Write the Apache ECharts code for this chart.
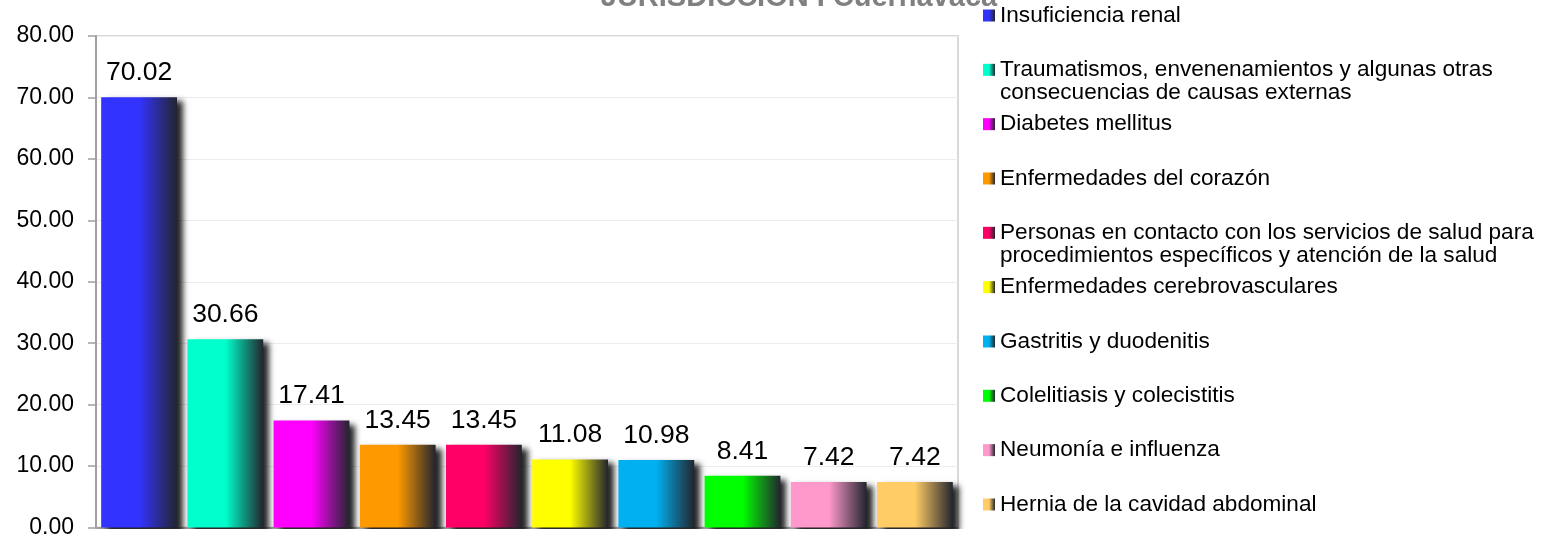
<!DOCTYPE html>
<html>
<head>
<meta charset="utf-8">
<script src="https://cdn.jsdelivr.net/npm/echarts@6/dist/echarts.min.js"></script>
<style>html,body{margin:0;padding:0;background:#fff}#c{width:1549px;height:539px}</style>
</head>
<body>
<div id="c"></div>
<script>
var titleText = 'JURISDICCIÓN I Cuernavaca';
var categories = [
  'Insuficiencia renal',
  'Traumatismos, envenenamientos y algunas otras\nconsecuencias de causas externas',
  'Diabetes mellitus',
  'Enfermedades del corazón',
  'Personas en contacto con los servicios de salud para\nprocedimientos específicos y atención de la salud',
  'Enfermedades cerebrovasculares',
  'Gastritis y duodenitis',
  'Colelitiasis y colecistitis',
  'Neumonía e influenza',
  'Hernia de la cavidad abdominal'
];
var values = [70.02, 30.66, 17.41, 13.45, 13.45, 11.08, 10.98, 8.41, 7.42, 7.42];
var colors = ['#3333FF', '#00FFCC', '#FF00FF', '#FF9900', '#FF0066', '#FFFF00', '#00B0F0', '#00FF00', '#FF99CC', '#FFCC66'];
var yTicks = [0, 10, 20, 30, 40, 50, 60, 70, 80];

var FONT = '"Liberation Sans", Arial, sans-serif';

function grad(c) {
  return new echarts.graphic.LinearGradient(0, 0, 1, 0, [
    {offset: 0, color: c},
    {offset: 0.5, color: c},
    {offset: 1, color: '#22252e'}
  ]);
}

var series = [];
var legends = [];
for (var i = 0; i < categories.length; i++) {
  var d = [];
  for (var j = 0; j < categories.length; j++) d.push(j === i ? values[i] : '-');
  series.push({
    type: 'bar',
    name: categories[i],
    data: d,
    barWidth: '88%',
    barGap: '-100%',
    itemStyle: {
      color: grad(colors[i]),
      shadowColor: 'rgba(0,0,0,0.85)',
      shadowBlur: 6,
      shadowOffsetX: 6,
      shadowOffsetY: 4
    },
    label: {
      show: true,
      position: 'top',
      distance: 11,
      fontSize: 26.5,
      fontFamily: FONT,
      color: '#000',
      formatter: function (p) { return p.value.toFixed(2); }
    }
  });
  var multi = categories[i].indexOf('\n') >= 0;
  var center = 15.5 + i * 54.33;
  legends.push({
    data: [categories[i]],
    left: 983,
    top: center - (multi ? 34.5 : 11.5),
    orient: 'vertical',
    padding: 0,
    icon: 'rect',
    itemWidth: 12,
    itemHeight: 12,
    selectedMode: false,
    itemStyle: {shadowBlur: 0, shadowOffsetX: 0, shadowOffsetY: 0},
    formatter: function (name) { return name.indexOf('\n') >= 0 ? '\n' + name : name; },
    textStyle: {fontSize: 22.6, lineHeight: 23, fontFamily: FONT, color: '#000'}
  });
}

var chart = echarts.init(document.getElementById('c'));
chart.setOption({
  animation: false,
  backgroundColor: '#fff',
  title: {
    text: titleText,
    left: 794,
    textAlign: 'center',
    top: -22,
    textStyle: {fontSize: 29, fontWeight: 'bold', color: '#808080', fontFamily: FONT}
  },
  legend: legends,
  grid: {
    left: 96, right: 591, top: 36, bottom: 11,
    show: true, borderColor: '#d9d9d9', borderWidth: 2, containLabel: false
  },
  graphic: [{
    type: 'rect',
    z: 100,
    shape: {x: 97, y: 529, width: 875, height: 12},
    style: {fill: '#fff'},
    silent: true
  }],
  xAxis: {
    type: 'category',
    data: categories,
    axisLine: {show: true, lineStyle: {color: '#a0a0a0', width: 2}},
    axisTick: {show: false},
    axisLabel: {show: false},
    splitLine: {show: false}
  },
  yAxis: {
    type: 'value',
    min: yTicks[0],
    max: yTicks[yTicks.length - 1],
    interval: 10,
    axisLine: {show: true, lineStyle: {color: '#a0a0a0', width: 2}},
    axisTick: {show: true, length: 8, lineStyle: {color: '#a0a0a0', width: 1.5}},
    axisLabel: {
      margin: 22, fontSize: 23, fontFamily: FONT, color: '#000',
      formatter: function (v) { return v.toFixed(2); }
    },
    splitLine: {show: true, lineStyle: {color: '#ececec', width: 1}}
  },
  series: series
});
</script>
</body>
</html>
